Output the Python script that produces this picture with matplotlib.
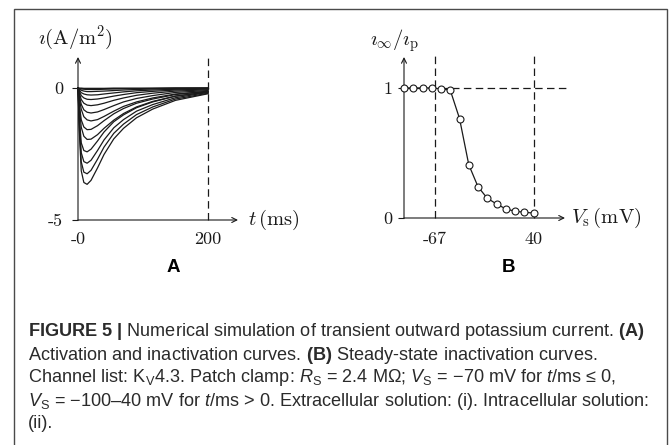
import matplotlib
matplotlib.use('Agg')
import matplotlib.pyplot as plt
from matplotlib.patches import Rectangle

# Panel A: current traces i (A/m^2), one per voltage step
t_ms = [0, 2, 5, 9, 14, 20, 30, 40, 55, 70, 90, 115, 150, 200]
step_mv = [-100, -90, -80, -70, -60, -50, -40, -30, -20, -10, 0, 10, 20, 30, 40]
current = [
    [0, 0, 0, 0, 0, 0, 0, 0, 0, 0, 0, 0, 0, 0],
    [0, -0.01, -0.01, -0.02, -0.02, -0.02, -0.02, -0.02, -0.01, -0.01, -0.01, -0.01, 0, 0],
    [0, -0.02, -0.04, -0.05, -0.06, -0.06, -0.06, -0.05, -0.04, -0.03, -0.03, -0.02, -0.01, -0.01],
    [0, -0.04, -0.09, -0.12, -0.14, -0.14, -0.13, -0.12, -0.10, -0.08, -0.06, -0.04, -0.03, -0.01],
    [0, -0.08, -0.18, -0.23, -0.26, -0.27, -0.26, -0.23, -0.19, -0.15, -0.11, -0.08, -0.05, -0.03],
    [0, -0.13, -0.29, -0.38, -0.43, -0.44, -0.42, -0.38, -0.31, -0.25, -0.18, -0.13, -0.08, -0.04],
    [0, -0.20, -0.44, -0.58, -0.65, -0.67, -0.64, -0.58, -0.47, -0.38, -0.28, -0.20, -0.12, -0.07],
    [0, -0.29, -0.62, -0.83, -0.92, -0.95, -0.91, -0.82, -0.67, -0.53, -0.40, -0.29, -0.17, -0.10],
    [0, -0.38, -0.81, -1.09, -1.21, -1.25, -1.20, -1.08, -0.88, -0.70, -0.53, -0.38, -0.23, -0.13],
    [0, -0.60, -1.21, -1.48, -1.58, -1.57, -1.43, -1.24, -0.98, -0.78, -0.58, -0.42, -0.25, -0.13],
    [0, -0.74, -1.49, -1.83, -1.95, -1.94, -1.77, -1.53, -1.22, -0.97, -0.72, -0.51, -0.31, -0.16],
    [0, -1.09, -2.08, -2.37, -2.42, -2.32, -2.01, -1.67, -1.28, -1.02, -0.75, -0.53, -0.31, -0.15],
    [0, -1.28, -2.45, -2.79, -2.85, -2.74, -2.37, -1.97, -1.51, -1.20, -0.88, -0.63, -0.37, -0.17],
    [0, -1.46, -2.80, -3.19, -3.25, -3.12, -2.70, -2.24, -1.72, -1.37, -1.01, -0.72, -0.42, -0.20],
    [0, -1.64, -3.14, -3.58, -3.65, -3.50, -3.03, -2.52, -1.93, -1.53, -1.13, -0.80, -0.47, -0.22],
]

# Panel B: steady-state inactivation i_inf / i_p
vs_mv = [-100, -90, -80, -70, -60, -50, -40, -30, -20, -10, 0, 10, 20, 30, 40]
inact = [1.0, 1.0, 1.0, 1.0, 0.993, 0.983, 0.765, 0.41, 0.24, 0.152, 0.108, 0.07, 0.052, 0.044, 0.038]

plt.rcParams['axes.unicode_minus'] = False
plt.rcParams['mathtext.rm'] = 'Liberation Sans'
plt.rcParams['mathtext.it'] = 'Liberation Sans:italic'
plt.rcParams['mathtext.bf'] = 'Liberation Sans:bold'

W, H = 669, 445
fig = plt.figure(figsize=(W / 100, H / 100), dpi=100)


def box(left, top, right, bottom):
    return [left / W, 1 - bottom / H, (right - left) / W, (bottom - top) / H]


def ftext(x, y, s, **kw):
    fig.text(x / W, 1 - y / H, s, **kw)


ink = '#1a1a1a'
cm = dict(fontfamily='cmr10', fontsize=13, color=ink)
dash = dict(color=ink, lw=0.9, dashes=(6, 3.5), clip_on=False)
arrow = dict(arrowstyle='->', lw=0.8, color=ink, shrinkA=0, shrinkB=0, mutation_scale=9)


def setup(ax):
    for s in ax.spines.values():
        s.set_visible(False)
    ax.annotate('', xy=(1, 0), xytext=(0, 0), xycoords='axes fraction', arrowprops=arrow)
    ax.annotate('', xy=(0, 1), xytext=(0, 0), xycoords='axes fraction', arrowprops=arrow)
    ax.set_facecolor('none')


# ---- panel A
axA = fig.add_axes(box(78, 57, 238, 220))
setup(axA)
for row in current:
    axA.plot(t_ms, row, color=ink, lw=0.9, clip_on=False)
axA.plot([200, 200], [-5, 1.2], **dash)
axA.set_xlim(0, 246)
axA.set_ylim(-5, 1.17)
axA.set_yticks([0, -5], ['0', '-5'], **cm)
axA.set_xticks([0, 200], ['-0', '200'], **cm)
axA.tick_params(axis='y', direction='out', length=4.3, width=0.8, pad=6.5, color=ink)
axA.tick_params(axis='x', length=0, pad=8.5)

ftext(38, 44, r'$\imath(\mathrm{A/m^2})$', ha='left', va='baseline', fontsize=14.8,
      color=ink, math_fontfamily='cm')
ftext(248, 220, r'$t\,(\mathrm{ms})$', ha='left', va='center', fontsize=14.8,
      color=ink, math_fontfamily='cm')
ftext(173, 268, 'A', ha='center', va='center', fontsize=13.5, fontweight='bold',
      fontfamily='Liberation Sans', color='black')

# ---- panel B
axB = fig.add_axes(box(404, 57, 565, 218))
setup(axB)
axB.plot([-67, -67], [0, 1.26], **dash)
axB.plot([40, 40], [0, 1.26], **dash)
axB.plot([-100, 76], [1, 1], **dash)
axB.plot(vs_mv, inact, color=ink, lw=0.9, marker='o', ms=5, mfc='white',
         mec=ink, mew=0.8, clip_on=False, zorder=3)
axB.set_xlim(-100, 74)
axB.set_ylim(0, 1.238)
axB.set_yticks([0, 1], ['0', '1'], **cm)
axB.set_xticks([-67, 40], ['-67', '40'], **cm)
axB.tick_params(axis='y', direction='out', length=4.3, width=0.8, pad=4, color=ink)
axB.tick_params(axis='x', length=0, pad=10)

ftext(370, 46, r'$\imath_\infty/\imath_\mathrm{p}$', ha='left', va='baseline', fontsize=14.8,
      color=ink, math_fontfamily='cm')
ftext(571, 218, r'$V_\mathrm{s}\,(\mathrm{mV})$', ha='left', va='center', fontsize=14.8,
      color=ink, math_fontfamily='cm')
ftext(508, 268, 'B', ha='center', va='center', fontsize=13.5, fontweight='bold',
      fontfamily='Liberation Sans', color='black')

# ---- frame and caption
fig.patches.append(Rectangle((14 / W, -0.05), (667 - 14) / W, 1.05 - 9 / H,
                             transform=fig.transFigure, fill=False,
                             edgecolor='#4a4a4a', lw=1.0))

cap = dict(ha='left', va='center', fontsize=13.1, color='#2b2b2b',
           fontfamily='Liberation Sans', math_fontfamily='custom')
lines = [
    r'$\mathbf{FIGURE\ 5\ |}$ Numerical simulation of transient outward potassium current. $\mathbf{(A)}$',
    r'Activation and inactivation curves. $\mathbf{(B)}$ Steady-state inactivation curves.',
    r'Channel list: $\mathrm{K}_\mathrm{V}$4.3. Patch clamp: $R_\mathrm{S}$ = 2.4 MΩ; $V_\mathrm{S}$ = −70 mV for $t$/ms ≤ 0,',
    r'$V_\mathrm{S}$ = −100–40 mV for $t$/ms > 0. Extracellular solution: (i). Intracellular solution:',
    '(ii).',
]
for i, s in enumerate(lines):
    ftext(28, 332 + 23 * i, s, **cap)

fig.savefig('out.png', dpi=100)
